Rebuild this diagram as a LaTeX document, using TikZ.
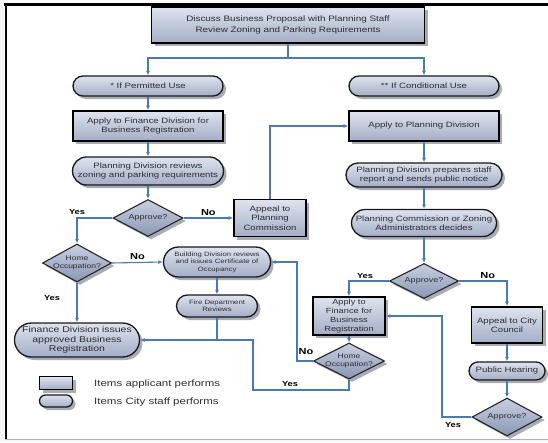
\documentclass[tikz,border=0pt]{standalone}
\usepackage{fontspec}
\setmainfont[FakeStretch=1.25]{Liberation Sans}
\usetikzlibrary{shapes.geometric,shadows,arrows.meta}
\definecolor{ln}{RGB}{74,122,178}
\definecolor{tx}{RGB}{45,45,52}
\definecolor{ftop}{RGB}{222,227,238}
\definecolor{fbot}{RGB}{163,173,198}
\definecolor{dtop}{RGB}{200,207,224}
\definecolor{dbot}{RGB}{138,150,180}
\definecolor{shd}{RGB}{170,172,180}
\newcommand{\fsz}[2]{\fontsize{#1}{#2}\selectfont}
\begin{document}
\begin{tikzpicture}[x=1pt,y=-1pt,
  nbase/.style={inner sep=0pt, align=center, text=tx, font=\fsz{7.7}{9.5},
    top color=ftop, bottom color=fbot,
    drop shadow={shadow xshift=3pt, shadow yshift=-3pt, fill=shd, opacity=1}},
  abox/.style={nbase, rectangle, draw=black, line width=1.7pt},
  spill/.style={nbase, rectangle, draw=black!90, line width=1.3pt, rounded corners=#1},
  ddia/.style={nbase, diamond, draw=black!85, line width=1.1pt, top color=dtop, bottom color=dbot},
  dlab/.style={inner sep=0pt, align=center, text=tx, font=\fsz{7.2}{8.5}},
  conn/.style={draw=ln, line width=1.1pt},
  arr/.style={conn, -{Latex[length=4.5pt,width=4pt]}},
  lno/.style={font=\bfseries\fsz{8.8}{10}, text=black, inner sep=1pt},
  lyes/.style={font=\bfseries\fsz{7.4}{9}, text=black, inner sep=1pt},
]
\useasboundingbox (0,0) rectangle (548,442);
\fill[white] (0,0) rectangle (548,442);
\fill[gray!8] (0,0) rectangle (4,442);
\fill[gray!8] (4,440) rectangle (548,442);
\draw[line width=2.5pt] (4,4.5) -- (548,4.5);
\draw[line width=2.5pt] (6,4) -- (6,440);
\draw[gray!60, line width=1.5pt] (5,439.5) -- (548,439.5);

% nodes
\node[abox, minimum width=273pt, minimum height=36pt, font=\fsz{7.9}{11.5}] (top) at (288,25)
  {Discuss Business Proposal with Planning Staff\\Review Zoning and Parking Requirements};
\node[spill=10pt, minimum width=150pt, minimum height=20pt] (perm) at (148,86) {* If Permitted Use};
\node[spill=10pt, minimum width=150pt, minimum height=20pt] (cond) at (424,86) {** If Conditional Use};
\node[abox, minimum width=150pt, minimum height=30pt] (applyfin) at (148,126)
  {Apply to Finance Division for\\Business Registration};
\node[abox, minimum width=150pt, minimum height=30pt] (applyplan) at (424,126) {Apply to Planning Division};
\node[spill=14pt, minimum width=151pt, minimum height=28pt] (pdrev) at (148,171)
  {Planning Division reviews\\zoning and parking requirements};
\node[ddia, minimum width=70pt, minimum height=37pt, label={[dlab]center:Approve?}] (appr1) at (148,218) {};
\node[abox, minimum width=72pt, minimum height=37pt] (appealpc) at (270,218) {Appeal to\\Planning\\Commission};
\node[ddia, minimum width=69pt, minimum height=38pt,
  label={[dlab, font=\fsz{6.8}{8}]center:{Home\\Occupation?}}] (home1) at (77,263) {};
\node[spill=15pt, minimum width=107pt, minimum height=30pt, font=\fsz{6.2}{7.5}] (bldg) at (217,262)
  {Building Division reviews\\and issues Certificate of\\Occupancy};
\node[spill=11pt, minimum width=81pt, minimum height=22pt, font=\fsz{6.2}{7.5}] (fire) at (217,306)
  {Fire Department\\Reviews};
\node[spill=17pt, minimum width=125pt, minimum height=34pt, font=\fsz{8.4}{9.5}] (finiss) at (77,340)
  {Finance Division issues\\approved Business\\Registration};
\node[spill=12pt, minimum width=156pt, minimum height=24pt] (pdprep) at (424,175)
  {Planning Division prepares staff\\report and sends public notice};
\node[spill=13.5pt, minimum width=145pt, minimum height=27pt] (pcdec) at (424,223)
  {Planning Commission or Zoning\\Administrators decides};
\node[ddia, minimum width=69pt, minimum height=35pt, label={[dlab]center:Approve?}] (appr2) at (424,281) {};
\node[abox, minimum width=72pt, minimum height=38pt, font=\fsz{7.4}{8.8}] (applyfin2) at (349,316)
  {Apply to\\Finance for\\Business\\Registration};
\node[ddia, minimum width=71pt, minimum height=36pt,
  label={[dlab, font=\fsz{6.8}{8}]center:{Home\\Occupation?}}] (home2) at (349,361) {};
\node[abox, minimum width=71pt, minimum height=36pt] (appealcc) at (507,325) {Appeal to City\\Council};
\node[spill=9pt, minimum width=76pt, minimum height=18pt] (hear) at (507,371) {Public Hearing};
\node[ddia, minimum width=70pt, minimum height=38pt, label={[dlab]center:Approve?}] (appr3) at (507,417) {};

% legend
\node[abox, minimum width=33pt, minimum height=13pt, line width=1.8pt] (legbox) at (56,383) {};
\node[spill=6pt, minimum width=33pt, minimum height=12pt] (legpill) at (56,401) {};
\node[anchor=west, font=\fsz{9.2}{11}, text=tx, inner sep=0pt] (legt1) at (94,384) {Items applicant performs};
\node[anchor=west, font=\fsz{9.2}{11}, text=tx, inner sep=0pt] (legt2) at (94,402) {Items City staff performs};

% connectors
\coordinate (split) at (288,58);
\draw[conn] (top.south) -- (split);
\draw[arr] (split) -| (perm.north);
\draw[arr] (split) -| (cond.north);
\draw[arr] (perm) -- (applyfin);
\draw[arr] (applyfin) -- (pdrev);
\draw[arr] (pdrev) -- (appr1);
\draw[arr] (appr1.west) -| (home1.north) node[pos=0.5, above=2pt, lyes] (y1) {Yes};
\draw[arr] (appr1.east) -- (appealpc.west) node[midway, above=1pt, lno] (n1) {No};
\draw[arr] (appealpc.north) |- (applyplan.west);
\draw[arr] (applyplan) -- (pdprep);
\draw[arr] (pdprep) -- (pcdec);
\draw[arr] (pcdec) -- (appr2);
\draw[arr] (appr2.west) -| (applyfin2.north) node[pos=0.3, above=1pt, lyes] (y2) {Yes};
\draw[arr] (appr2.east) -| (appealcc.north) node[pos=0.3, above=1pt, lno] (n2) {No};
\draw[arr] (appealcc) -- (hear);
\draw[arr] (hear) -- (appr3);
\coordinate (ryes) at (442,417);
\draw[arr] (appr3.west) -- (ryes) |- (applyfin2.east);
\node[lyes] (y3) at (453,425) {Yes};
\draw[arr] (applyfin2) -- (home2);
\coordinate (hno) at (297,361);
\draw[arr] (home2.west) -- (hno) |- (bldg.east);
\node[lno] (n3) at (306,352) {No};
\coordinate (hy1) at (349,390);
\coordinate (hy2) at (253,390);
\draw[arr] (home2.south) -- (hy1) -- (hy2) |- (finiss.east);
\node[lyes] (y4) at (290,384) {Yes};
\draw[conn] (fire.south) -- (fire.south |- finiss.east);
\draw[arr] (home1.east) -- (bldg.west) node[midway, above=1pt, lno] (n4) {No};
\draw[arr] (home1.south) -- (finiss.north);
\node[lyes] (y5) at (52,298) {Yes};
\draw[arr] (bldg) -- (fire);
\end{tikzpicture}
\end{document}
